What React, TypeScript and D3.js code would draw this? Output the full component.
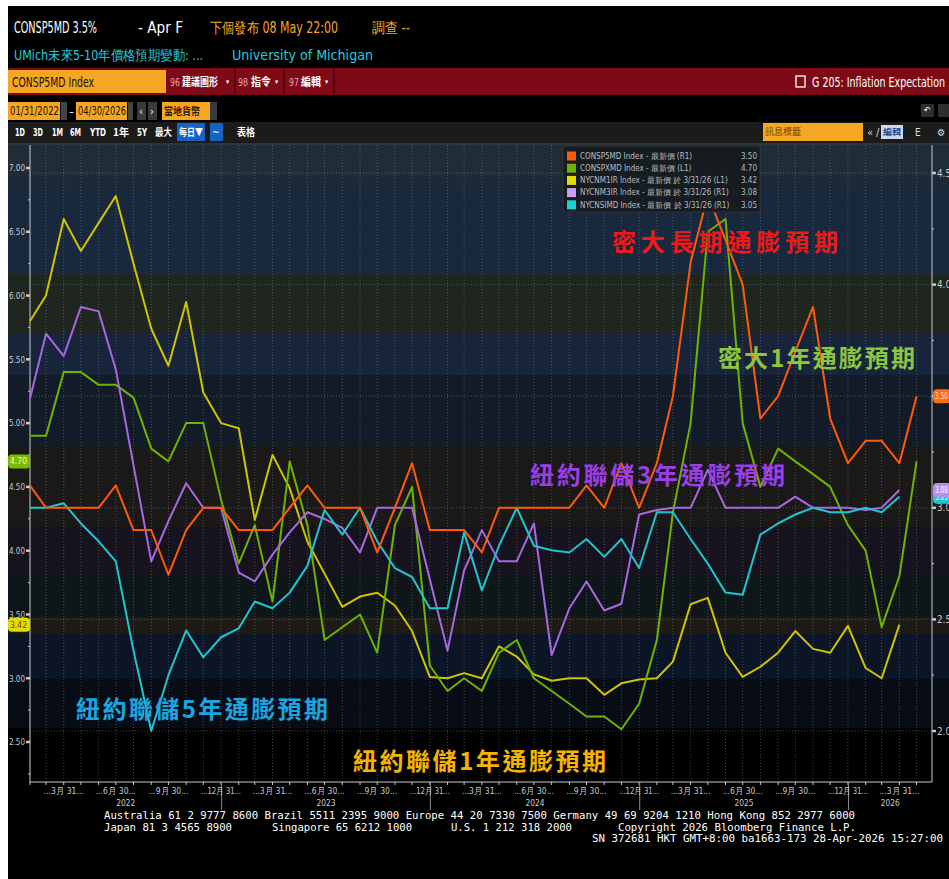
import * as d3 from "d3";
import { useEffect, useRef } from "react";

const W = 949;
const H = 879;

// monthly observations, Jan 2022 .. Apr 2026 (NY Fed series end Mar 2026)
const umich5y = [
  3.1, 3.0, 3.0, 3.0, 3.0, 3.1, 2.9, 2.9, 2.7, 2.9, 3.0, 3.0,
  2.9, 2.9, 2.9, 3.0, 3.1, 3.0, 3.0, 3.0, 2.8, 3.0, 3.2, 2.9,
  2.9, 2.9, 2.8, 3.0, 3.0, 3.0, 3.0, 3.0, 3.1, 3.0, 3.2, 3.0,
  3.2, 3.5, 4.1, 4.4, 4.2, 4.0, 3.4, 3.5, 3.7, 3.9, 3.4, 3.2,
  3.3, 3.3, 3.2, 3.5,
];
const umich1y = [
  4.9, 4.9, 5.4, 5.4, 5.3, 5.3, 5.2, 4.8, 4.7, 5.0, 5.0, 4.4,
  3.9, 4.2, 3.6, 4.7, 4.2, 3.3, 3.4, 3.5, 3.2, 4.2, 4.5, 3.1,
  2.9, 3.0, 2.9, 3.2, 3.3, 3.0, 2.9, 2.8, 2.7, 2.7, 2.6, 2.8,
  3.3, 4.3, 5.0, 6.5, 6.6, 5.0, 4.5, 4.8, 4.7, 4.6, 4.5, 4.2,
  4.0, 3.4, 3.8, 4.7,
];
const nyfed1y = [
  5.8, 6.0, 6.6, 6.35, 6.57, 6.78, 6.25, 5.74, 5.45, 5.95, 5.24, 5.0,
  4.96, 4.24, 4.75, 4.49, 4.07, 3.82, 3.56, 3.64, 3.67, 3.57, 3.37, 3.01,
  3.0, 3.04, 3.0, 3.25, 3.17, 3.03, 2.98, 3.0, 3.0, 2.87, 2.96, 2.99,
  3.0, 3.13, 3.58, 3.63, 3.2, 3.01, 3.09, 3.2, 3.37, 3.23, 3.2, 3.41,
  3.08, 3.0, 3.42,
];
const nyfed3y = [
  3.49, 3.78, 3.68, 3.9, 3.88, 3.62, 3.19, 2.76, 2.94, 3.11, 3.0, 3.0,
  2.71, 2.67, 2.79, 2.89, 2.98, 2.95, 2.91, 2.8, 3.0, 3.0, 3.0, 2.68,
  2.36, 2.72, 2.9, 2.76, 2.76, 2.93, 2.34, 2.55, 2.67, 2.54, 2.57, 2.97,
  2.99, 3.0, 3.0, 3.17, 3.0, 3.0, 3.0, 3.0, 3.05, 3.0, 3.0, 3.0,
  2.99, 3.0, 3.08,
];
const nyfed5y = [
  3.0, 3.0, 3.02, 2.93, 2.85, 2.76, 2.36, 2.0, 2.25, 2.45, 2.33, 2.42,
  2.46, 2.58, 2.55, 2.62, 2.74, 2.99, 2.88, 3.0, 2.85, 2.73, 2.69, 2.55,
  2.55, 2.89, 2.63, 2.83, 3.0, 2.83, 2.81, 2.8, 2.86, 2.78, 2.86, 2.73,
  2.98, 2.98, 2.86, 2.75, 2.62, 2.61, 2.88, 2.93, 2.97, 3.0, 2.98, 2.98,
  3.0, 2.98, 3.05,
];

const leftTicks = [2.5, 3.0, 3.5, 4.0, 4.5, 5.0, 5.5, 6.0, 6.5, 7.0];
const rightTicks = [2.0, 2.5, 3.0, 3.5, 4.0, 4.5];
const quarterTickLabels = ["...3月 31...", "...6月 30...", "...9月 30...", "...12月 31..."];
const yearLabels = ["2022", "2023", "2024", "2025", "2026"];

const series = [
  { id: "NYCNM1IR", data: nyfed1y, axis: "L", color: "#cfc400" },
  { id: "CONSPXMD", data: umich1y, axis: "L", color: "#6db300" },
  { id: "NYCNM3IR", data: nyfed3y, axis: "R", color: "#a868e2" },
  { id: "NYCNSIMD", data: nyfed5y, axis: "R", color: "#1fc6cf" },
  { id: "CONSP5MD", data: umich5y, axis: "R", color: "#ff5a0a" },
];

const legendRows = [
  { text: "CONSP5MD Index - 最新價 (R1)", value: "3.50", color: "#ff5a0a" },
  { text: "CONSPXMD Index - 最新價 (L1)", value: "4.70", color: "#6db300" },
  { text: "NYCNM1IR Index - 最新價 於 3/31/26 (L1)", value: "3.42", color: "#e2dc00" },
  { text: "NYCNM3IR Index - 最新價 於 3/31/26 (R1)", value: "3.08", color: "#c89ef0" },
  { text: "NYCNSIMD Index - 最新價 於 3/31/26 (R1)", value: "3.05", color: "#1fd0d0" },
];

const annotations = [
  { text: "密大長期通膨預期", x: 612, y: 243, len: 226, color: "#f01818" },
  { text: "密大1年通膨預期", x: 718, y: 359, len: 197, color: "#8cc63f" },
  { text: "紐約聯儲3年通膨預期", x: 530, y: 476, len: 255, color: "#9a3ee6" },
  { text: "紐約聯儲5年通膨預期", x: 76, y: 710, len: 252, color: "#1ba6e0" },
  { text: "紐約聯儲1年通膨預期", x: 353, y: 762, len: 253, color: "#f4b400" },
];

// background banding of the plot (pixel rows, style only)
const bands = [
  [143, 176, "#202d36"], [176, 190, "#1c2a37"], [190, 274, "#18283d"],
  [274, 333, "#1f251f"], [333, 375, "#182439"], [375, 445, "#131b29"],
  [445, 527, "#1a1918"], [527, 576, "#16131e"], [576, 617, "#0f161a"],
  [617, 634, "#1e1b16"], [634, 679, "#0b1526"], [679, 728, "#070c15"],
  [728, 782, "#000000"],
] as const;

const UI = "'DejaVu Sans Condensed', 'Liberation Sans Narrow', 'DejaVu Sans', sans-serif";
const CJK = "'Noto Sans CJK TC', 'Noto Sans CJK SC', sans-serif";
const MONO = "'DejaVu Sans Mono', 'Liberation Mono', monospace";

export default function App() {
  const svgRef = useRef<SVGSVGElement>(null);

  useEffect(() => {
    if (!svgRef.current) return;
    const svg = d3.select(svgRef.current);
    svg.selectAll("*").remove();

    const txt = (
      x: number, y: number, s: string, size: number, fill: string,
      o: { len?: number; anchor?: string; family?: string; weight?: string | number } = {},
    ) => {
      const t = svg.append("text")
        .attr("x", x).attr("y", y)
        .attr("dy", "0.35em")
        .attr("text-anchor", o.anchor || "start")
        .style("font-family", o.family || UI)
        .style("font-size", size + "px")
        .style("font-weight", o.weight || "normal")
        .style("fill", fill)
        .text(s);
      if (o.len) t.attr("textLength", o.len).attr("lengthAdjust", "spacingAndGlyphs");
      return t;
    };
    const box = (x: number, y: number, w: number, h: number, fill: string) =>
      svg.append("rect").attr("x", x).attr("y", y).attr("width", w).attr("height", h).style("fill", fill);

    box(0, 0, W, H, "#ffffff");
    box(8, 6, W - 8, H - 6, "#000000");

    // header
    txt(14, 28, "CONSP5MD 3.5%", 15, "#ffffff", { len: 83 });
    txt(138, 28, "- Apr F", 15, "#ffffff", { len: 45 });
    txt(210, 28, "下個發布 08 May 22:00", 15, "#f5a623", { len: 128 });
    txt(372, 28, "調查 --", 15, "#f5a623", { len: 38 });
    txt(14, 55, "UMich未來5-10年價格預期變動: ...", 14, "#27c9db", { len: 189 });
    txt(232, 55, "University of Michigan", 14, "#27c9db", { len: 141 });

    box(8, 68, W - 8, 27, "#7e0a17");
    box(8, 70, 158, 23, "#f5a623");
    txt(12, 82, "CONSP5MD Index", 14, "#1a1200", { len: 82 });
    [["96", "建議圖形", 170, 182, 36, 226, 235], ["98", "指令", 238, 251, 20, 275, 284], ["97", "編輯", 289, 301, 20, 325, 334]]
      .forEach(([n, s, xa, xb, ln, xc, sep]) => {
        txt(xa as number, 82, n as string, 11, "#e9a0a8", { len: 10 });
        txt(xb as number, 82, s as string, 11, "#ffffff", { family: CJK, weight: 700, len: ln as number });
        txt(xc as number, 82, "▾", 7, "#ffffff");
        svg.append("line").attr("x1", sep).attr("x2", sep).attr("y1", 69).attr("y2", 94)
          .style("stroke", "#4a0008").style("stroke-width", 1.5);
      });
    svg.append("rect").attr("x", 796).attr("y", 76).attr("width", 9).attr("height", 11)
      .style("fill", "none").style("stroke", "#ffffff").style("stroke-width", 1.3);
    txt(812, 82, "G 205: Inflation Expectation", 14, "#ffffff", { len: 133 });

    box(8, 102, 52, 18, "#f5a623");
    txt(10, 111, "01/31/2022", 12, "#1a1200", { len: 49 });
    box(61, 102, 6, 18, "#444444");
    txt(69, 111, "-", 11, "#ffffff", { len: 5 });
    box(76, 102, 51, 18, "#f5a623");
    txt(78, 111, "04/30/2026", 12, "#1a1200", { len: 48 });
    box(128, 102, 5, 18, "#444444");
    box(137, 102, 9, 18, "#3a3a3a");
    box(148, 102, 9, 18, "#3a3a3a");
    txt(139, 111, "‹", 11, "#ffffff");
    txt(150, 111, "›", 11, "#ffffff");
    box(162, 102, 48, 18, "#f5a623");
    txt(164, 111, "當地貨幣", 10, "#2a1a00", { family: CJK, weight: 700, len: 36 });
    box(210, 102, 7, 18, "#3a3a3a");
    box(921, 104, 13, 13, "#2e2e2e");
    box(938, 104, 11, 13, "#2e2e2e");
    txt(924, 110, "↶", 9, "#ffffff");

    box(8, 122, W - 8, 21, "#1b1b1b");
    ([["1D", 15, 10], ["3D", 33, 10], ["1M", 52, 11], ["6M", 70, 11], ["YTD", 90, 16], ["1年", 113, 16], ["5Y", 137, 10], ["最大", 155, 17]] as [string, number, number][])
      .forEach(([s, xx, ln]) => txt(xx, 132, s, 10, "#ffffff", { family: /[年大]/.test(s) ? CJK : UI, weight: 700, len: ln }));
    box(177, 123, 28, 18, "#1763c4");
    txt(179, 132, "每日▼", 10, "#ffffff", { family: CJK, weight: 700, len: 24 });
    box(210, 123, 13, 18, "#1763c4");
    txt(212, 132, "~", 10, "#ffffff");
    txt(237, 132, "表格", 10, "#ffffff", { family: CJK, weight: 700, len: 18 });
    box(763, 123, 100, 18, "#f5a623");
    txt(765, 132, "訊息標籤", 9, "#6a4a00", { family: CJK });
    txt(867, 132, "«", 11, "#dddddd");
    txt(876, 132, "/", 11, "#dddddd");
    box(881, 125, 22, 14, "#cfd8e8");
    txt(883, 132, "編輯", 8, "#1a4a9a", { family: CJK, weight: 700, len: 18 });
    txt(915, 132, "E", 10, "#dddddd");
    txt(937, 132, "⚙", 10, "#dddddd");

    // plot background bands
    bands.forEach(([y0, y1, c]) => box(8, y0, W - 8, y1 - y0, c));
    box(8, 143, W - 8, 2, "#2e343a");

    const x0 = 30, x1 = 932, yTop = 145, yBot = 782;
    const months = d3.timeMonth.range(new Date(2022, 0, 1), new Date(2026, 4, 1))
      .map((d) => d3.timeDay.offset(d3.timeMonth.offset(d, 1), -1));
    const x = d3.scaleTime().domain([new Date(2022, 0, 31), new Date(2026, 4, 27)]).range([x0, x1]);
    const yL = d3.scaleLinear().domain([2.5, 7.0]).range([742, 168]);
    const yR = d3.scaleLinear().domain([2.0, 4.5]).range([731, 173]);

    // grid
    const grid = svg.append("g").style("stroke", "#8a96a2").style("stroke-opacity", 0.45)
      .style("stroke-dasharray", "1,2").style("stroke-width", 1);
    months.forEach((m) => {
      grid.append("line").attr("x1", x(m)).attr("x2", x(m)).attr("y1", yTop).attr("y2", yBot);
    });
    rightTicks.forEach((v) => {
      grid.append("line").attr("x1", x0).attr("x2", x1).attr("y1", yR(v)).attr("y2", yR(v));
    });

    // axes frame
    const ax = svg.append("g").style("stroke", "#c4c8cc").style("stroke-width", 1);
    ax.append("line").attr("x1", x0).attr("x2", x0).attr("y1", yTop).attr("y2", yBot);
    ax.append("line").attr("x1", x1).attr("x2", x1).attr("y1", yTop).attr("y2", yBot);
    ax.append("line").attr("x1", x0).attr("x2", x1).attr("y1", yBot).attr("y2", yBot);

    d3.range(2.25, 7.2, 0.25).forEach((v) => {
      const major = leftTicks.includes(+v.toFixed(2));
      ax.append("line").attr("x1", major ? 26 : 28).attr("x2", x0).attr("y1", yL(v)).attr("y2", yL(v))
        .style("stroke-width", major ? 2.5 : 1);
    });
    d3.range(1.75, 4.7, 0.25).forEach((v) => {
      const major = rightTicks.includes(+v.toFixed(2));
      if (yR(v) < yTop || yR(v) > yBot) return;
      ax.append("line").attr("x1", x1).attr("x2", major ? 936 : 934).attr("y1", yR(v)).attr("y2", yR(v))
        .style("stroke-width", major ? 2.5 : 1);
    });
    leftTicks.forEach((v) => txt(25, yL(v), v.toFixed(2), 9.5, "#c8cacc", { anchor: "end", len: 16 }));
    // the 3.5 label sits under the orange value tag
    rightTicks.filter((v) => v !== 3.5)
      .forEach((v) => txt(937, yR(v), v.toFixed(1), 10, "#c8cacc", { len: 14 }));

    months.forEach((m) => {
      ax.append("line").attr("x1", x(m)).attr("x2", x(m)).attr("y1", yBot).attr("y2", yBot + 3);
      if (m.getMonth() % 3 === 2) {
        txt(x(m), 791, quarterTickLabels[(m.getMonth() - 2) / 3], 9, "#c8cacc", { anchor: "middle", len: 40 });
      }
    });
    yearLabels.forEach((yr, i) => {
      const a = Math.max(x0, x(new Date(+yr, 0, 1)));
      const b = Math.min(x1, x(new Date(+yr + 1, 0, 1)));
      txt((a + b) / 2, 803, yr, 9, "#c8cacc", { anchor: "middle", len: 19 });
      if (i > 0) {
        ax.append("line").attr("x1", a).attr("x2", a).attr("y1", yBot).attr("y2", 810)
          .style("stroke", "#8a8e92");
      }
    });

    // series lines
    series.forEach((s) => {
      const y = s.axis === "L" ? yL : yR;
      const line = d3.line<number>().x((_, i) => x(months[i])).y((d) => y(d));
      svg.append("path").datum(s.data).attr("d", line)
        .style("fill", "none").style("stroke", s.color).style("stroke-width", 2)
        .style("stroke-linejoin", "round");
    });

    // legend
    const lg = svg.append("g");
    lg.append("rect").attr("x", 563).attr("y", 146).attr("width", 197).attr("height", 66)
      .style("fill", "#171b20").style("fill-opacity", 0.92).style("stroke", "#2e3338");
    legendRows.forEach((r, i) => {
      const yy = 156 + i * 12.2;
      lg.append("rect").attr("x", 567).attr("y", yy - 4.5).attr("width", 9).attr("height", 9).style("fill", r.color);
      lg.append("text").attr("x", 580).attr("y", yy).attr("dy", "0.35em")
        .style("font-family", UI).style("font-size", "8px").style("fill", "#b8bcc0").text(r.text);
      lg.append("text").attr("x", 757).attr("y", yy).attr("dy", "0.35em").attr("text-anchor", "end")
        .style("font-family", UI).style("font-size", "8px").style("fill", "#b8bcc0").text(r.value);
    });

    // axis value tags
    const tag = (xx: number, yy: number, w: number, fill: string, s: string, tc: string) => {
      svg.append("rect").attr("x", xx).attr("y", yy - 7).attr("width", w).attr("height", 14).attr("rx", 4).style("fill", fill);
      txt(xx + 2, yy, s, 8.5, tc, { len: w - 5 });
    };
    tag(8, yL(4.7), 22, "#78bd00", "4.70", "#eaffc0");
    tag(8, yL(3.42), 22, "#e2dc00", "3.42", "#5a5200");
    tag(933, yR(3.5), 18, "#ff6a12", "3.50", "#ffe0c8");
    tag(933, yR(3.05), 18, "#1fc6cf", "3.05", "#e0ffff");
    tag(933, yR(3.08), 18, "#b98ef0", "3.08", "#ffffff");

    // annotations: even letter spacing to span the measured width
    annotations.forEach((a) => {
      const t = txt(a.x, a.y, a.text, 24, a.color, { family: CJK, weight: 700 });
      const w = (t.node() as SVGTextElement).getComputedTextLength();
      const n = Array.from(a.text).length;
      t.style("letter-spacing", `${(a.len - w) / (n - 1)}px`);
    });

    // footer
    const f = (xx: number, yy: number, s: string, len: number) => {
      txt(xx, yy, s, 11, "#ffffff", { family: MONO, len });
    };
    f(104, 815, "Australia 61 2 9777 8600 Brazil 5511 2395 9000 Europe 44 20 7330 7500 Germany 49 69 9204 1210 Hong Kong 852 2977 6000", 751);
    f(104, 827, "Japan 81 3 4565 8900", 128);
    f(272, 827, "Singapore 65 6212 1000", 140);
    f(451, 827, "U.S. 1 212 318 2000", 121);
    f(618, 827, "Copyright 2026 Bloomberg Finance L.P.", 238);
    f(592, 838, "SN 372681 HKT  GMT+8:00 ba1663-173 28-Apr-2026 15:27:00", 351);
  }, []);

  return (
    <svg
      ref={svgRef}
      width={W}
      height={H}
      style={{ position: "absolute", left: 0, top: 0, display: "block" }}
    />
  );
}
